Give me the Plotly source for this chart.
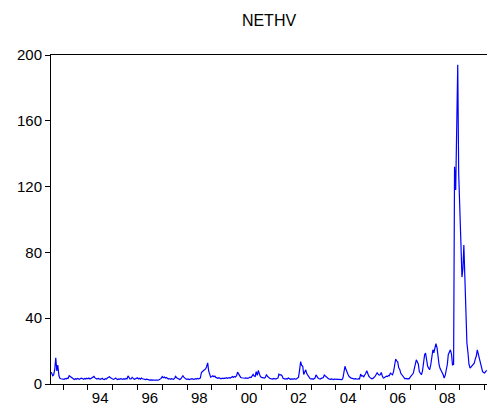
import pandas as pd
import plotly.graph_objects as go

v1992 = [7.0, 6.8, 5.0, 5.5, 9.0, 16.0, 8.0, 11.5, 5.0, 3.5, 3.2, 3.0]
v1993 = [3.0, 2.8, 3.3, 3.0, 3.6, 3.4, 5.0, 4.6, 4.0, 3.5, 3.0, 2.7,
         3.2, 2.9, 3.4, 3.1, 2.8, 3.3, 3.6, 3.2, 2.9, 3.4, 3.0, 3.5]
v1994 = [3.2, 3.6, 3.0, 3.4, 3.8, 4.3, 4.6, 3.7, 3.2, 3.0, 3.4, 2.9,
         2.8, 3.1, 3.5, 2.9, 2.7, 3.2, 3.0, 3.6, 4.0, 4.4, 3.8, 3.2]
v1995 = [3.0, 2.8, 3.2, 3.6, 3.0, 2.7, 3.1, 2.9, 3.3, 3.0, 2.8, 3.2,
         2.9, 3.4, 3.1, 4.9, 3.6, 3.0, 3.2, 4.0, 3.4, 2.9, 3.1, 3.6]
v1996 = [3.8, 3.1, 3.5, 3.0, 3.6, 3.2, 2.9, 3.1, 2.7, 2.9, 2.6, 2.8,
         2.4, 2.5, 2.3, 2.2, 2.4, 2.3, 2.2, 2.5, 2.3, 2.6, 2.8, 3.4]
v1997 = [4.5, 3.8, 4.2, 3.6, 4.0, 3.4, 3.0, 3.3, 2.9, 3.2, 3.0, 2.8,
         3.4, 4.6, 3.8, 3.6, 3.0, 2.7, 3.2, 4.0, 5.0, 4.2, 3.3, 3.0]
v1998 = [2.8, 3.1, 2.7, 3.0, 2.9, 3.3, 3.0, 2.8, 3.2, 3.0, 3.4, 3.1,
         3.3, 3.6, 7.0, 7.8, 8.2, 8.6, 9.2, 10.5, 12.8, 8.0, 5.4, 4.2]
v1999 = [4.6, 5.0, 4.4, 4.8, 4.0, 3.6, 3.5, 3.8, 3.4, 3.2, 3.5, 3.3,
         3.6, 3.4, 3.8, 3.5, 3.7, 3.9, 3.6, 4.2, 4.5, 4.0, 4.6, 4.3]
v2000 = [5.0, 7.2, 6.0, 4.2, 4.0, 3.8, 3.6, 3.9, 3.5, 3.7, 3.6, 3.4,
         3.8, 4.2, 3.9, 4.6, 5.8, 4.8, 4.6, 7.5, 5.3, 8.2, 6.0, 4.6]
v2001 = [4.0, 3.8, 3.5, 3.6, 4.2, 5.8, 4.6, 3.8, 3.5, 3.3, 3.2, 3.0,
         3.4, 3.2, 3.0, 3.3, 3.6, 6.0, 5.4, 5.6, 5.0, 3.5, 3.2, 3.0]
v2002 = [3.2, 3.0, 3.6, 3.2, 2.9, 3.1, 2.8, 3.0, 3.2, 2.9, 3.1, 3.4,
         4.2, 8.0, 13.6, 11.5, 10.8, 5.8, 7.0, 8.6, 6.2, 5.0, 4.0, 3.4]
v2003 = [3.0, 3.2, 2.9, 3.3, 3.6, 5.5, 4.2, 3.6, 3.2, 3.0, 3.4, 3.6,
         3.9, 5.5, 4.8, 4.0, 3.4, 3.2, 3.0, 2.8, 3.1, 2.9, 2.7, 3.0]
v2004 = [2.9, 3.1, 2.8, 3.0, 2.7, 2.9, 2.6, 3.6, 9.0, 10.8, 8.6, 6.8,
         5.6, 4.5, 3.8, 3.6, 3.4, 3.2, 3.0, 3.3, 3.1, 2.9, 3.2, 3.0]
v2005 = [6.0, 4.8, 5.0, 4.2, 5.5, 6.2, 8.0, 6.0, 4.8, 4.0, 3.5, 3.2,
         3.4, 3.8, 4.6, 5.6, 6.8, 6.0, 5.4, 5.6, 7.0, 5.0, 3.6, 3.8]
v2006 = [4.2, 4.8, 4.5, 5.2, 5.0, 6.8, 6.0, 5.6, 7.5, 11.0, 15.2, 14.0,
         13.5, 10.0, 8.7, 6.5, 5.6, 4.5, 3.8, 3.2, 3.4, 3.1, 3.3, 3.2]
v2007 = [4.2, 4.8, 5.6, 6.5, 9.0, 13.0, 14.7, 13.5, 12.0, 7.6, 6.5, 5.6,
         8.0, 14.0, 17.8, 18.8, 14.5, 10.7, 9.5, 8.7, 12.0, 17.0, 20.8, 19.0]
v2008 = [22.0, 24.5, 21.8, 15.0, 11.7, 9.5, 8.5, 7.0, 5.6, 3.6, 5.5, 8.0,
         12.0, 18.0, 19.8, 20.8, 17.8, 11.7, 12.0, 132.0, 118.0, 165.0, 194.0, 128.0]
v2009 = [110.0, 88.0, 65.0, 70.0, 84.5, 60.0, 40.0, 25.0, 19.0, 12.0, 9.7, 10.5,
         11.0, 12.0, 12.7, 15.0, 17.0, 20.8, 18.0, 14.7, 11.0, 9.0, 7.6, 7.0]
v2010 = [6.7, 7.5, 8.3]

values = (v1992 + v1993 + v1994 + v1995 + v1996 + v1997 + v1998 + v1999 + v2000
          + v2001 + v2002 + v2003 + v2004 + v2005 + v2006 + v2007 + v2008
          + v2009 + v2010)
dates = pd.date_range("1992-07-01", periods=len(values), freq="SMS")

year_ticks = [f"{y}-01-01" for y in range(1993, 2011)]
label_years = list(range(1994, 2010, 2))
label_pos = [f"{y}-07-01" for y in label_years]
label_text = [f"{y % 100:02d}" for y in label_years]

x_range = ["1992-07-07", "2010-02-05"]
font = dict(family="Liberation Sans, Arial, sans-serif", size=15, color="black")

fig = go.Figure()
fig.add_trace(go.Scatter(x=dates, y=values, mode="lines",
                         line=dict(color="#0000FF", width=1.2),
                         showlegend=False, hoverinfo="skip"))
# invisible trace to host the label axis
fig.add_trace(go.Scatter(x=[dates[0]], y=[None], xaxis="x2", showlegend=False,
                         mode="lines", hoverinfo="skip"))

fig.update_layout(
    width=488, height=414,
    margin=dict(l=51, r=1, t=55, b=30),
    paper_bgcolor="white", plot_bgcolor="white",
    font=font,
    title=dict(text="NETHV", x=(51 + 487) / 2 / 488, xanchor="center",
               y=1 - 20 / 414, yanchor="middle",
               font=dict(family="Liberation Sans, Arial, sans-serif", size=16, color="black")),
    xaxis=dict(type="date", range=x_range, tickmode="array", tickvals=year_ticks,
               showticklabels=False, ticks="outside", ticklen=5, tickwidth=1,
               tickcolor="black", showline=True, linecolor="black", linewidth=1,
               mirror=True, showgrid=False, zeroline=False),
    xaxis2=dict(type="date", range=x_range, overlaying="x", anchor="y", side="bottom",
                tickmode="array", tickvals=label_pos, ticktext=label_text,
                ticks="", showline=False, showgrid=False, zeroline=False,
                ticklabelstandoff=3, tickfont=font),
    yaxis=dict(range=[0, 200], tickmode="array", tickvals=[0, 40, 80, 120, 160, 200],
               ticks="outside", ticklen=5, tickwidth=1, tickcolor="black",
               showline=True, linecolor="black", linewidth=1, mirror=False,
               showgrid=False, zeroline=False, tickfont=font),
)

fig.write_html("out.html")
